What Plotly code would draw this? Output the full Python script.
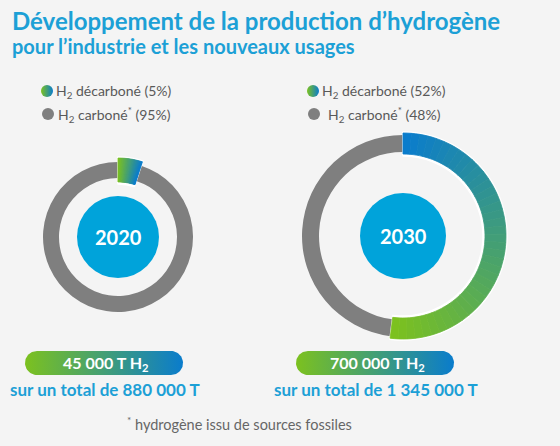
import numpy as np
import plotly.graph_objects as go

W, H = 560, 446

# données
annees = ["2020", "2030"]
part_decarbone = [5, 52]
part_carbone = [95, 48]
production_h2 = ["45 000 T H<sub>2</sub>", "700 000 T H<sub>2</sub>"]
total_h2 = ["sur un total de 880 000 T", "sur un total de 1 345 000 T"]

# styles
FOND = "#f4f4f4"
VERT = "#7cc11f"
BLEU = "#0a7ccc"
GRIS = "#7f7f7f"
CYAN = "#00a3da"
TITRE = "#1ca0d6"
TEXTE = "#595959"
TRANSP = "rgba(0,0,0,0)"

# géométrie (pixels)
centres = [(118, 237), (403, 236)]
rayons = [75, 101]
epaisseur_gris = [16, 17]
rayon_interne = [41, 43]
sens_degrade = [(VERT, BLEU), (BLEU, VERT)]
N_SEG = 40


def hexrgb(c):
    c = c.lstrip("#")
    return [int(c[i:i + 2], 16) for i in (0, 2, 4)]


def melange(c1, c2, t):
    a, b = hexrgb(c1), hexrgb(c2)
    return "rgb(%d,%d,%d)" % tuple(round(a[k] + (b[k] - a[k]) * t) for k in range(3))


def domaine(cx, cy, r):
    return dict(x=[(cx - r) / W, (cx + r) / W], y=[1 - (cy + r) / H, 1 - (cy - r) / H])


fig = go.Figure()

for i, an in enumerate(annees):
    cx, cy = centres[i]
    r = rayons[i]
    dec, carb = part_decarbone[i], part_carbone[i]
    # anneau gris (carboné)
    fig.add_trace(go.Pie(values=[dec, carb], sort=False, direction="clockwise",
                         hole=(r - epaisseur_gris[i]) / r, domain=domaine(cx, cy, r),
                         marker=dict(colors=[TRANSP, GRIS], line=dict(width=0)),
                         textinfo="none", hoverinfo="skip", showlegend=False))
    # contour blanc du segment décarboné
    r_ext = r + 5 if i == 0 else r + 3
    ep = 27 if i == 0 else 24
    fig.add_trace(go.Pie(values=[dec, carb], sort=False, direction="clockwise",
                         hole=(r_ext - ep) / r_ext, domain=domaine(cx, cy, r_ext),
                         marker=dict(colors=["white", TRANSP], line=dict(width=[1.5, 0], color="white")),
                         textinfo="none", hoverinfo="skip", showlegend=False))
    # segment décarboné en dégradé
    r_dec = r + 4 if i == 0 else r + 2
    ep_dec = 24 if i == 0 else 21
    c1, c2 = sens_degrade[i]
    couleurs = [melange(c1, c2, k / (N_SEG - 1)) for k in range(N_SEG)]
    fig.add_trace(go.Pie(values=[dec / N_SEG] * N_SEG + [carb], sort=False, direction="clockwise",
                         hole=(r_dec - ep_dec) / r_dec, domain=domaine(cx, cy, r_dec),
                         marker=dict(colors=couleurs + [TRANSP],
                                     line=dict(width=[0.8] * N_SEG + [0], color=couleurs + [TRANSP])),
                         textinfo="none", hoverinfo="skip", showlegend=False))

    # disque central
    ri = rayon_interne[i]
    fig.add_shape(type="circle", xref="x", yref="y", x0=cx - ri, x1=cx + ri, y0=cy - ri, y1=cy + ri,
                  fillcolor=CYAN, line=dict(width=0))
    fig.add_annotation(x=cx, y=cy, xref="x", yref="y", text="<b>%s</b>" % an, showarrow=False,
                       font=dict(size=20, color="white"))

# légendes
leg_x = [47, 313]
for i in range(2):
    x = leg_x[i]
    fig.add_trace(go.Scatter(x=[x], y=[91], mode="markers", hoverinfo="skip", showlegend=False,
                             marker=dict(size=12, color=VERT, gradient=dict(type="horizontal", color=BLEU),
                                         line=dict(width=0))))
    fig.add_trace(go.Scatter(x=[x + 1], y=[114], mode="markers", hoverinfo="skip", showlegend=False,
                             marker=dict(size=12, color=GRIS, line=dict(width=0))))
    fig.add_annotation(x=x + 7, y=91, xref="x", yref="y", xanchor="left", showarrow=False,
                       text="H<sub>2</sub> décarboné (%d%%)" % part_decarbone[i],
                       font=dict(size=14, color=TEXTE))
    fig.add_annotation(x=x + 9 + 4 * i, y=114, xref="x", yref="y", xanchor="left", showarrow=False,
                       text="H<sub>2</sub> carboné<sup>*</sup> (%d%%)" % part_carbone[i],
                       font=dict(size=14, color=TEXTE))

# pastilles du bas
pastilles = [(25, 183), (296, 454)]
y0, y1 = 351, 375
rr = (y1 - y0) / 2
for i, (xa, xb) in enumerate(pastilles):
    t1 = np.linspace(np.pi / 2, 3 * np.pi / 2, 30)
    t2 = np.linspace(-np.pi / 2, np.pi / 2, 30)
    ym = (y0 + y1) / 2
    px = np.concatenate([xa + rr + rr * np.cos(t1), xb - rr + rr * np.cos(t2)])
    py = np.concatenate([ym - rr * np.sin(t1), ym - rr * np.sin(t2)])
    fig.add_trace(go.Scatter(x=list(px) + [px[0]], y=list(py) + [py[0]], mode="lines", fill="toself",
                             line=dict(width=0), hoverinfo="skip", showlegend=False,
                             fillgradient=dict(type="horizontal", colorscale=[[0, VERT], [1, BLEU]])))
    fig.add_annotation(x=(xa + xb) / 2 + 2, y=ym, xref="x", yref="y", showarrow=False,
                       text="<b>%s</b>" % production_h2[i], font=dict(size=16, color="white"))
    fig.add_annotation(x=(xa + xb) / 2 + 1, y=389, xref="x", yref="y", showarrow=False,
                       text="<b>%s</b>" % total_h2[i], font=dict(size=17, color=TITRE))

# titres et note
fig.add_annotation(x=10, y=20, xref="x", yref="y", xanchor="left", showarrow=False,
                   text="<b>Développement de la production d’hydrogène</b>",
                   font=dict(size=24, color=TITRE))
fig.add_annotation(x=10, y=46, xref="x", yref="y", xanchor="left", showarrow=False,
                   text="<b>pour l’industrie et les nouveaux usages</b>",
                   font=dict(size=20, color=TITRE))
fig.add_annotation(x=239, y=423, xref="x", yref="y", showarrow=False,
                   text="<sup>*</sup> hydrogène issu de sources fossiles",
                   font=dict(size=14.5, color="#666666"))

fig.update_layout(
    width=W, height=H, margin=dict(l=0, r=0, t=0, b=0),
    paper_bgcolor=FOND, plot_bgcolor=FOND,
    font=dict(family="Lato, sans-serif"),
    xaxis=dict(range=[0, W], visible=False, fixedrange=True),
    yaxis=dict(range=[H, 0], visible=False, fixedrange=True),
)

fig.write_html("out.html", config={"displayModeBar": False},
               post_script="document.body.style.margin='0';")
